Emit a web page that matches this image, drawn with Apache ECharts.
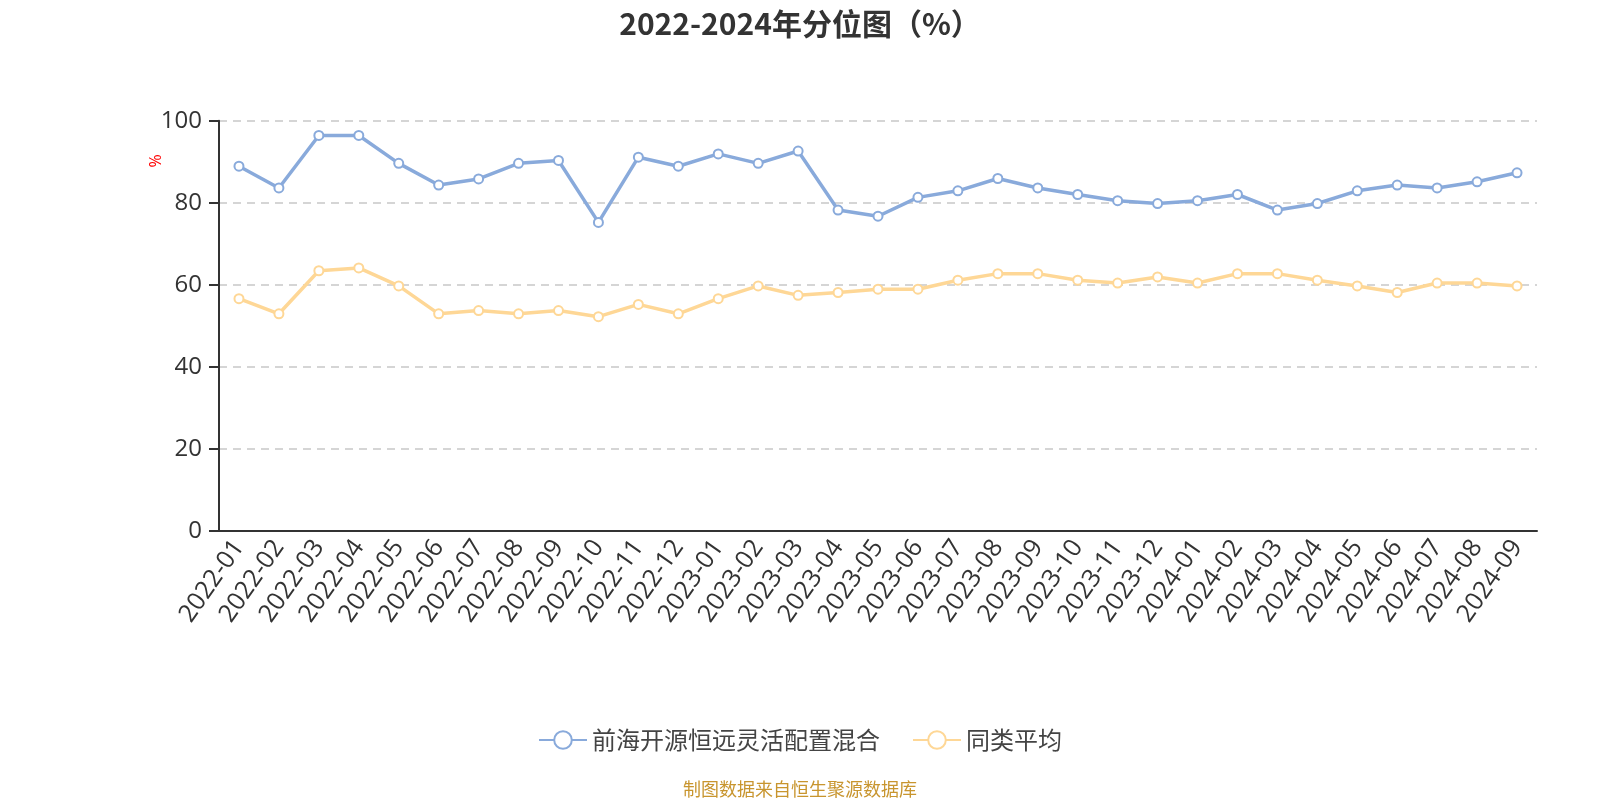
<!DOCTYPE html>
<html>
<head>
<meta charset="utf-8">
<script src="https://cdn.jsdelivr.net/npm/echarts@6/dist/echarts.min.js"></script>
<style>
html,body{margin:0;padding:0;background:#fff;}
#main{width:1600px;height:800px;}
</style>
</head>
<body>
<div id="main"></div>
<script>
const categories = ['2022-01','2022-02','2022-03','2022-04','2022-05','2022-06','2022-07','2022-08','2022-09','2022-10','2022-11','2022-12',
'2023-01','2023-02','2023-03','2023-04','2023-05','2023-06','2023-07','2023-08','2023-09','2023-10','2023-11','2023-12',
'2024-01','2024-02','2024-03','2024-04','2024-05','2024-06','2024-07','2024-08','2024-09'];
const fundValues = [88.9, 83.6, 96.4, 96.4, 89.6, 84.3, 85.8, 89.6, 90.3, 75.2, 91.1, 88.9,
  91.9, 89.6, 92.6, 78.2, 76.7, 81.3, 82.9, 85.9, 83.6, 82.0, 80.5, 79.8,
  80.5, 82.0, 78.2, 79.8, 82.9, 84.3, 83.6, 85.1, 87.3];
const avgValues = [56.6, 52.9, 63.4, 64.1, 59.7, 52.9, 53.7, 52.9, 53.7, 52.2, 55.2, 52.9,
  56.6, 59.7, 57.4, 58.1, 58.9, 58.9, 61.1, 62.7, 62.7, 61.1, 60.4, 61.9,
  60.4, 62.7, 62.7, 61.1, 59.7, 58.1, 60.4, 60.4, 59.7];
const yTicks = [0, 20, 40, 60, 80, 100];
const seriesNames = ['前海开源恒远灵活配置混合', '同类平均'];

const CJK = '"Noto Sans CJK SC", sans-serif';
const LAT = '"Open Sans", "Noto Sans", sans-serif';
const chart = echarts.init(document.getElementById('main'));
chart.setOption({
  animation: false,
  title: {
    text: '2022-2024年分位图（%）',
    left: 'center', top: 4,
    textStyle: { fontSize: 30, fontWeight: 'bold', color: '#333', fontFamily: CJK }
  },
  legend: {
    data: seriesNames,
    left: 'center', top: 723,
    itemWidth: 48, itemHeight: 22, itemGap: 32,
    textStyle: { fontSize: 24, color: '#444', fontFamily: CJK }
  },
  grid: { left: 219, right: 63, top: 120.7, bottom: 269.3, containLabel: false },
  xAxis: {
    type: 'category',
    data: categories,
    boundaryGap: true,
    axisLine: { lineStyle: { color: '#333', width: 2 } },
    axisTick: { alignWithLabel: false, length: 7, lineStyle: { color: '#333', width: 2 } },
    axisLabel: { rotate: 55, interval: 0, fontSize: 25, color: '#333', margin: 12, fontFamily: LAT }
  },
  yAxis: {
    type: 'value',
    min: 0, max: 100, interval: 20,
    axisLine: { show: true, lineStyle: { color: '#333', width: 2 } },
    axisTick: { show: true, length: 10, lineStyle: { color: '#333', width: 2 } },
    axisLabel: { fontSize: 24, color: '#333', margin: 17, fontFamily: LAT,
      formatter: v => yTicks.includes(v) ? String(v) : '' },
    splitLine: { lineStyle: { type: [8, 6], color: '#c8c8c8', width: 1.5 } }
  },
  graphic: [
    { type: 'text', x: 156, y: 161, rotation: Math.PI / 2,
      style: { text: '%', fill: '#ff0000', fontSize: 16, fontFamily: LAT, textAlign: 'center', textVerticalAlign: 'middle' } },
    { type: 'text', x: 800, y: 789,
      style: { text: '制图数据来自恒生聚源数据库', fill: '#c8952e', fontSize: 18, fontFamily: CJK, textAlign: 'center', textVerticalAlign: 'middle' } }
  ],
  series: [
    { name: seriesNames[0], type: 'line', data: fundValues,
      symbol: 'emptyCircle', symbolSize: 9,
      lineStyle: { width: 3.5, color: '#89aadb' },
      itemStyle: { color: '#89aadb', borderWidth: 2 } },
    { name: seriesNames[1], type: 'line', data: avgValues,
      symbol: 'emptyCircle', symbolSize: 9,
      lineStyle: { width: 3.5, color: '#fed796' },
      itemStyle: { color: '#fed796', borderWidth: 2 } }
  ]
});
</script>
</body>
</html>
